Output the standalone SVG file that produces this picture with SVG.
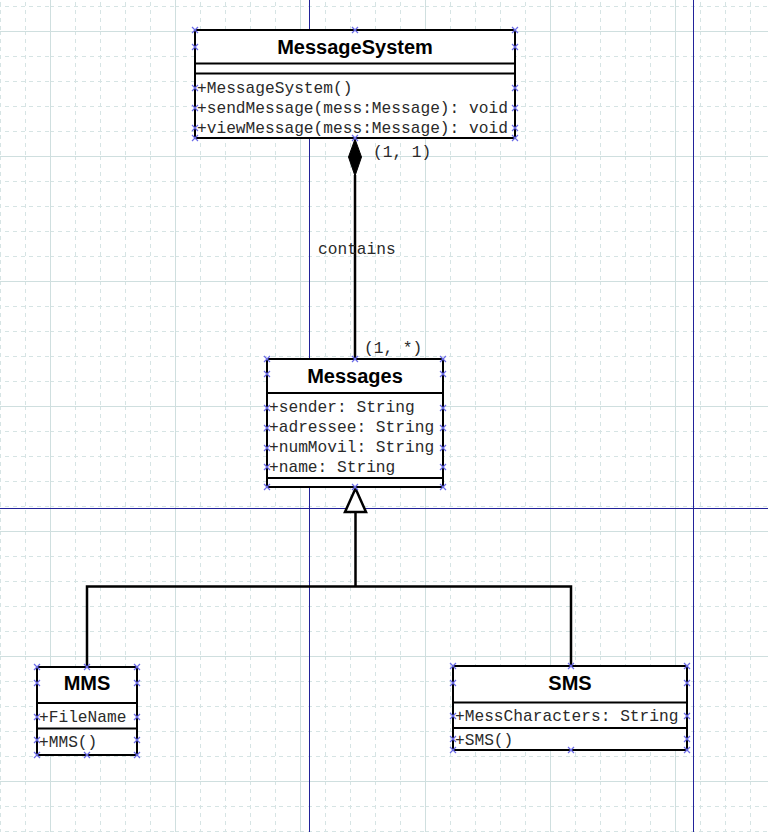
<svg xmlns="http://www.w3.org/2000/svg" xmlns:xlink="http://www.w3.org/1999/xlink" width="768" height="832" viewBox="0 0 768 832">
  <style>
    .box { fill: #ffffff; stroke: #000000; stroke-width: 2; }
    .sep { stroke: #000000; stroke-width: 2; fill: none; }
    .title { font-family: "Liberation Sans", Arial, sans-serif; font-weight: bold; font-size: 20px; fill: #000000; text-anchor: middle; }
    .mono { font-family: "Liberation Mono", "Courier New", monospace; font-size: 16.2px; fill: #2a2a2a; }
    .conn { stroke: #000000; stroke-width: 2.5; fill: none; }
    .page { stroke: #22229a; stroke-width: 1; fill: none; }
    .handle { stroke: #6a6ae8; stroke-width: 1.2; fill: none; }
    .minor { stroke: #d6e4e4; stroke-width: 1; stroke-dasharray: 4 4; }
    .major { stroke: #cfdfdf; stroke-width: 1; }
  </style>
  <defs>
    <pattern id="grid" x="50" y="31" width="125" height="125" patternUnits="userSpaceOnUse">
      <path class="minor" d="M25.5,0V125M50.5,0V125M75.5,0V125M100.5,0V125M0,25.5H125M0,50.5H125M0,75.5H125M0,100.5H125"/>
      <path class="major" d="M0.5,0V125M0,0.5H125"/>
    </pattern>
    <path id="h" class="handle" d="M-3,-3L3,3M-3,3L3,-3"/>
  </defs>

  <!-- canvas and grid -->
  <rect width="768" height="832" fill="#ffffff"/>
  <rect width="768" height="832" fill="url(#grid)"/>

  <!-- page borders -->
  <g id="page-borders">
    <path class="page" d="M309.5,0V832M693.5,0V832M0,508.5H768"/>
  </g>

  <!-- connectors -->
  <g id="connectors">
    <!-- composition: MessageSystem contains Messages -->
    <path class="conn" d="M355,175V359"/>
    <path d="M355,139L361.5,157L355,176L348.5,157Z" fill="#000000" stroke="#000000" stroke-width="1"/>
    <text class="mono" x="373" y="157">(1, 1)</text>
    <text class="mono" x="318" y="254">contains</text>
    <text class="mono" x="364" y="353">(1, *)</text>
    <!-- generalization: MMS, SMS extend Messages -->
    <path class="conn" d="M87,667V586.5H571V666M355.5,586.5V512"/>
    <path d="M355.5,488.5L366,512L345,512Z" fill="#ffffff" stroke="#000000" stroke-width="2.5" stroke-linejoin="miter"/>
  </g>

  <!-- MessageSystem -->
  <g id="MessageSystem">
    <rect class="box" x="195" y="30" width="320" height="108"/>
    <path class="sep" d="M195,63.5H515M195,73.5H515"/>
    <text class="title" x="355" y="54">MessageSystem</text>
    <text class="mono" x="197" y="93">+MessageSystem()</text>
    <text class="mono" x="197" y="113">+sendMessage(mess:Message): void</text>
    <text class="mono" x="197" y="133">+viewMessage(mess:Message): void</text>
    <g>
      <use href="#h" x="195" y="30"/><use href="#h" x="355" y="30"/><use href="#h" x="515" y="30"/>
      <use href="#h" x="195" y="138"/><use href="#h" x="355" y="138"/><use href="#h" x="515" y="138"/>
      <use href="#h" x="195" y="47"/><use href="#h" x="515" y="47"/>
      <use href="#h" x="195" y="88"/><use href="#h" x="515" y="88"/>
      <use href="#h" x="195" y="108"/><use href="#h" x="515" y="108"/>
      <use href="#h" x="195" y="128"/><use href="#h" x="515" y="128"/>
    </g>
  </g>

  <!-- Messages -->
  <g id="Messages">
    <rect class="box" x="267" y="359" width="176" height="128"/>
    <path class="sep" d="M267,393H443M267,478H443"/>
    <text class="title" x="355" y="383">Messages</text>
    <text class="mono" x="269" y="412">+sender: String</text>
    <text class="mono" x="269" y="432">+adressee: String</text>
    <text class="mono" x="269" y="452">+numMovil: String</text>
    <text class="mono" x="269" y="472">+name: String</text>
    <g>
      <use href="#h" x="267" y="359"/><use href="#h" x="355" y="359"/><use href="#h" x="443" y="359"/>
      <use href="#h" x="267" y="487"/><use href="#h" x="355" y="487"/><use href="#h" x="443" y="487"/>
      <use href="#h" x="267" y="374"/><use href="#h" x="443" y="374"/>
      <use href="#h" x="267" y="408"/><use href="#h" x="443" y="408"/>
      <use href="#h" x="267" y="428"/><use href="#h" x="443" y="428"/>
      <use href="#h" x="267" y="448"/><use href="#h" x="443" y="448"/>
      <use href="#h" x="267" y="467"/><use href="#h" x="443" y="467"/>
    </g>
  </g>

  <!-- MMS -->
  <g id="MMS">
    <rect class="box" x="37" y="667" width="100" height="88"/>
    <path class="sep" d="M37,703H137M37,728.5H137"/>
    <text class="title" x="87" y="690">MMS</text>
    <text class="mono" x="39" y="722">+FileName</text>
    <text class="mono" x="39" y="747">+MMS()</text>
    <g>
      <use href="#h" x="37" y="667"/><use href="#h" x="87" y="667"/><use href="#h" x="137" y="667"/>
      <use href="#h" x="37" y="755"/><use href="#h" x="87" y="755"/><use href="#h" x="137" y="755"/>
      <use href="#h" x="37" y="683"/><use href="#h" x="137" y="683"/>
      <use href="#h" x="37" y="717"/><use href="#h" x="137" y="717"/>
      <use href="#h" x="37" y="740"/><use href="#h" x="137" y="740"/>
    </g>
  </g>

  <!-- SMS -->
  <g id="SMS">
    <rect class="box" x="453" y="666" width="234" height="84"/>
    <path class="sep" d="M453,702.5H687M453,728H687"/>
    <text class="title" x="570" y="690">SMS</text>
    <text class="mono" x="455" y="721">+MessCharacters: String</text>
    <text class="mono" x="455" y="745">+SMS()</text>
    <g>
      <use href="#h" x="453" y="666"/><use href="#h" x="571" y="666"/><use href="#h" x="687" y="666"/>
      <use href="#h" x="453" y="750"/><use href="#h" x="571" y="750"/><use href="#h" x="687" y="750"/>
      <use href="#h" x="453" y="683"/><use href="#h" x="687" y="683"/>
      <use href="#h" x="453" y="716"/><use href="#h" x="687" y="716"/>
      <use href="#h" x="453" y="739"/><use href="#h" x="687" y="739"/>
    </g>
  </g>
</svg>
